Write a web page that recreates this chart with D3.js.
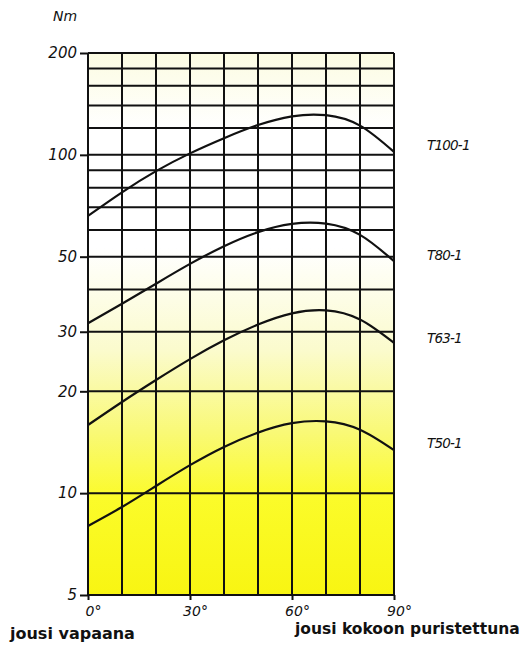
<!DOCTYPE html>
<html>
<head>
<meta charset="utf-8">
<script src="https://cdn.jsdelivr.net/npm/d3@7"></script>
<style>
  body { margin: 0; background: #fff; }
  svg { display: block; }
</style>
</head>
<body>
<div id="chart"></div>
<script>
// angle of the spring (degrees) and torque (Nm) per model
const angles = [0, 10, 20, 30, 40, 50, 60, 70, 80, 90];
const t100 = [66, 77.5, 89.5, 101, 112, 122.5, 130, 131, 122, 102];
const t80 = [31.8, 36.3, 41.6, 47.6, 53.7, 59.1, 62.5, 62.6, 58.0, 48.5];
const t63 = [15.9, 18.6, 21.6, 24.9, 28.3, 31.5, 34.0, 34.7, 32.6, 27.8];
const t50 = [8.0, 9.1, 10.5, 12.1, 13.7, 15.1, 16.1, 16.3, 15.4, 13.4];
const seriesNames = ["T100-1", "T80-1", "T63-1", "T50-1"];
const seriesValues = [t100, t80, t63, t50];

const yTicks = [200, 100, 50, 30, 20, 10, 5];
const yGrid = [200, 180, 160, 140, 120, 100, 90, 80, 70, 60, 50, 40, 30, 20, 10, 5];
const xTicks = [0, 30, 60, 90];
const xGrid = [0, 10, 20, 30, 40, 50, 60, 70, 80, 90];

const W = 529, H = 646;
const margin = { top: 53, right: 135, bottom: 51, left: 88 };
const width = W - margin.left - margin.right;
const height = H - margin.top - margin.bottom;

const labelFont = "DejaVu Sans, Verdana, sans-serif";

const svg = d3.select("#chart")
    .append("svg")
    .attr("width", W)
    .attr("height", H);

// yellow fade behind the grid
const grad = svg.append("defs").append("linearGradient")
    .attr("id", "bg")
    .attr("x1", 0).attr("y1", 0).attr("x2", 0).attr("y2", 1);
[[0, "#fcfce2"], [0.14, "#ffffff"], [0.36, "#ffffff"], [0.55, "#fbfbcc"],
 [0.70, "#f9f976"], [0.82, "#fbfb2a"], [1, "#f8f512"]]
    .forEach(([o, c]) => grad.append("stop").attr("offset", o).attr("stop-color", c));

const g = svg.append("g")
    .attr("transform", `translate(${margin.left},${margin.top})`);

const x = d3.scaleLinear().domain([0, 90]).range([0, width]);
const y = d3.scaleLog().domain([5, 200]).range([height, 0]);

g.append("rect")
    .attr("width", width)
    .attr("height", height)
    .attr("fill", "url(#bg)");

// grid
g.selectAll(".hgrid")
    .data(yGrid)
    .enter().append("line")
    .attr("x1", 0).attr("x2", width)
    .attr("y1", d => y(d)).attr("y2", d => y(d))
    .attr("stroke", "#111").attr("stroke-width", 2);

g.selectAll(".vgrid")
    .data(xGrid)
    .enter().append("line")
    .attr("y1", 0).attr("y2", height)
    .attr("x1", d => x(d)).attr("x2", d => x(d))
    .attr("stroke", "#111").attr("stroke-width", 2);

// y axis
const yAxis = g.append("g")
    .call(d3.axisLeft(y).tickValues(yTicks).tickFormat(d3.format("d")).tickSize(8).tickPadding(3));
yAxis.select(".domain").remove();
yAxis.selectAll("line").attr("stroke", "#111").attr("stroke-width", 2);
yAxis.selectAll("text")
    .attr("font-family", labelFont)
    .attr("font-style", "italic")
    .attr("font-size", 15)
    .attr("fill", "#111");

// x axis
const xAxis = g.append("g")
    .attr("transform", `translate(0,${height})`)
    .call(d3.axisBottom(x).tickValues(xTicks).tickFormat(d => d + "°").tickSize(5).tickPadding(6));
xAxis.select(".domain").remove();
xAxis.selectAll("line").attr("stroke", "#111").attr("stroke-width", 2);
xAxis.selectAll("text")
    .attr("dx", 5)
    .attr("font-family", labelFont)
    .attr("font-style", "italic")
    .attr("font-size", 14)
    .attr("fill", "#111");

// curves
const line = d3.line()
    .x((d, i) => x(angles[i]))
    .y(d => y(d))
    .curve(d3.curveNatural);

g.selectAll(".curve")
    .data(seriesValues)
    .enter().append("path")
    .attr("d", line)
    .attr("fill", "none")
    .attr("stroke", "#111")
    .attr("stroke-width", 2.2);

// curve labels to the right
const labelY = [145, 255, 338, 443];
svg.selectAll(".slabel")
    .data(seriesNames)
    .enter().append("text")
    .attr("x", 427)
    .attr("y", (d, i) => labelY[i] + 5)
    .attr("font-family", labelFont)
    .attr("font-style", "italic")
    .attr("font-size", 13.5)
    .attr("letter-spacing", -0.8)
    .attr("fill", "#111")
    .text(d => d);

svg.append("text")
    .attr("x", 53).attr("y", 21)
    .attr("font-family", labelFont)
    .attr("font-style", "italic")
    .attr("font-size", 14)
    .attr("fill", "#111")
    .text("Nm");

svg.append("text")
    .attr("x", 10).attr("y", 639)
    .attr("font-family", labelFont)
    .attr("font-weight", "bold")
    .attr("font-size", 16)
    .attr("fill", "#111")
    .text("jousi vapaana");

svg.append("text")
    .attr("x", 295).attr("y", 634)
    .attr("font-family", labelFont)
    .attr("font-weight", "bold")
    .attr("font-size", 15.5)
    .attr("fill", "#111")
    .text("jousi kokoon puristettuna");
</script>
</body>
</html>
